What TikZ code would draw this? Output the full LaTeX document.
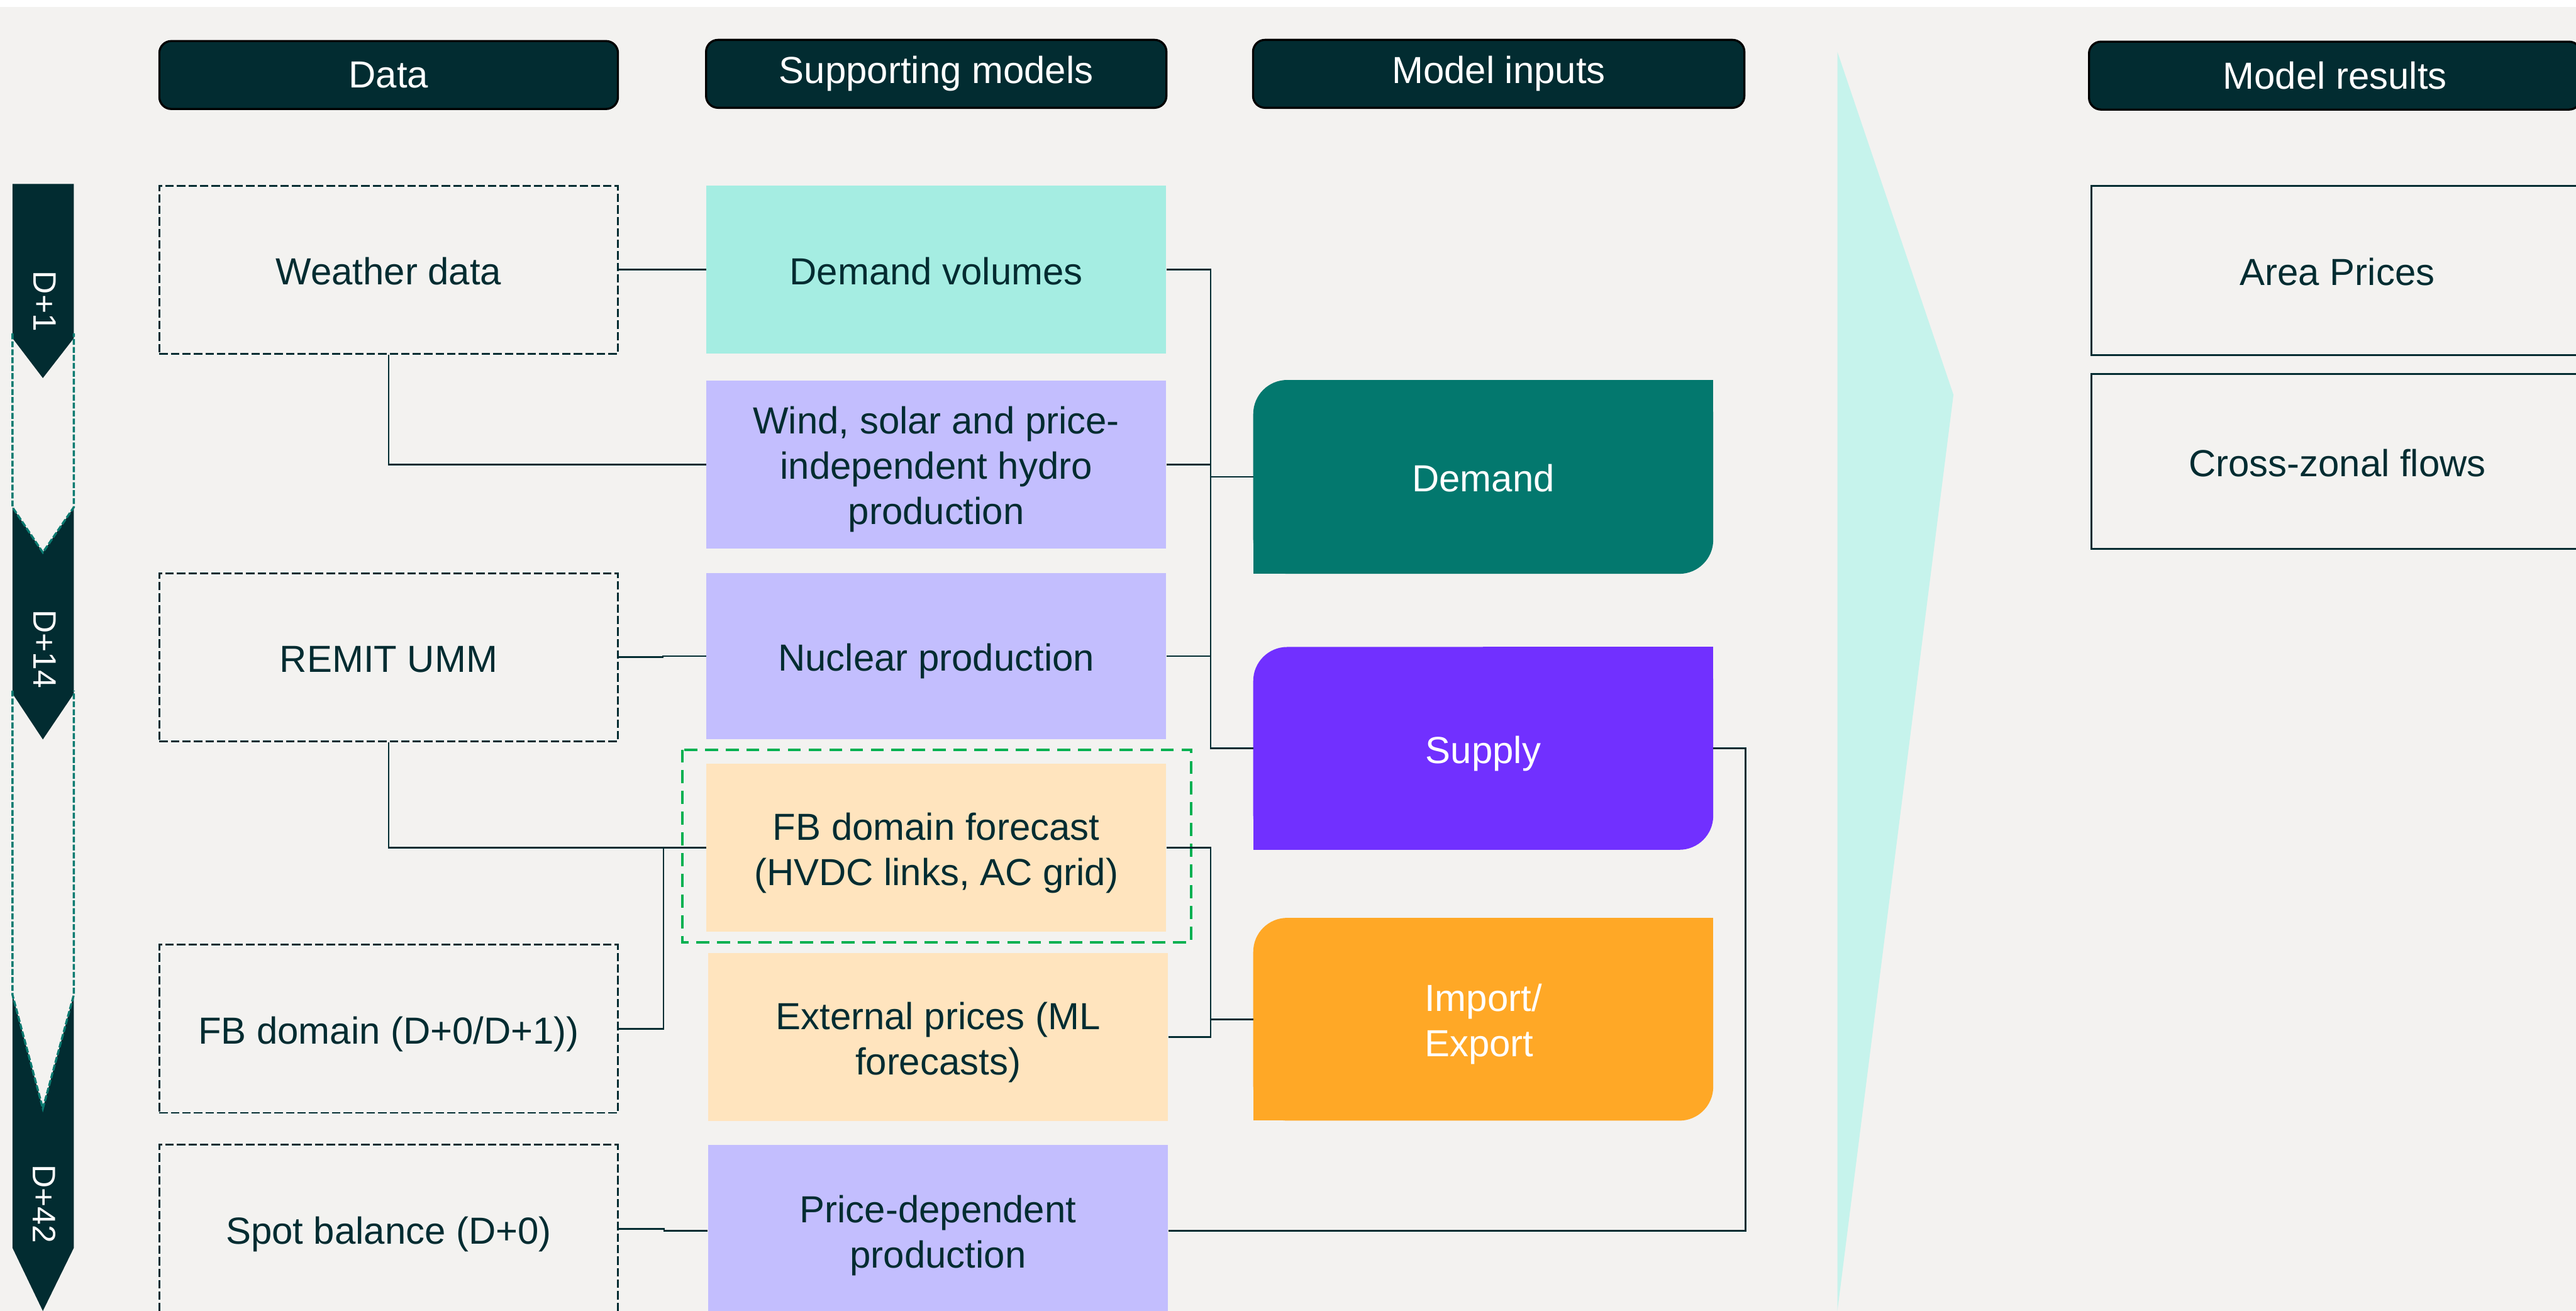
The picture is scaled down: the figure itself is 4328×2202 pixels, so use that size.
\documentclass[tikz,border=0pt]{standalone}
\usepackage{fontspec}
\setmainfont{Liberation Sans}
\usetikzlibrary{calc}

\definecolor{fonce}{RGB}{2,44,49}
\definecolor{fond}{RGB}{243,242,240}
\definecolor{menthe}{RGB}{165,237,226}
\definecolor{lavande}{RGB}{195,190,254}
\definecolor{peche}{RGB}{255,228,190}
\definecolor{sarcelle}{RGB}{3,120,110}
\definecolor{violet}{RGB}{113,48,255}
\definecolor{orange}{RGB}{255,168,38}
\definecolor{eau}{RGB}{198,243,236}
\definecolor{vert}{RGB}{0,176,80}
\definecolor{tiret}{RGB}{10,122,112}

% jambages fixes pour centrer les lignes
\newcommand{\haut}{\rule{0pt}{1em}}
\newcommand{\bas}{\rule[-0.21em]{0pt}{0.21em}}

% boite d'entree : coins arrondis en haut a gauche et en bas a droite
\newcommand{\boiteentree}[5][]{%
	\node[entree,#1] (#2) at (#3) {};
	\fill[#4,rounded corners=0.57cm] (#2.south west) rectangle (#2.north east);
	\fill[#4] (#2.north) rectangle (#2.east);
	\fill[#4] (#2.west) rectangle (#2.south);
	\node[txt,text=white,align=left] at (#2) {#5};
}

\begin{document}
\begin{tikzpicture}[x=0.01cm,y=-0.01cm,
	police/.style={font=\fontsize{18}{21.6}\selectfont,align=center,text=fonce},
	txt/.style={police,execute at begin node={\haut},execute at end node={\bas}},
	titre/.style={police,text=white,fill=fonce,draw=black,line width=1pt,rounded corners=0.2cm,minimum height=1.14cm,inner sep=0pt},
	donnee/.style={txt,draw=fonce,line width=0.85pt,dash pattern=on 4pt off 1.5pt,minimum width=7.7cm,minimum height=2.82cm,inner sep=0pt},
	modele/.style={txt,minimum width=7.72cm,minimum height=2.82cm,inner sep=0pt},
	entree/.style={minimum width=7.71cm,minimum height=3.39cm,inner sep=0pt},
	resultat/.style={txt,draw=fonce,line width=0.9pt,minimum width=8.25cm,inner sep=0pt},
	lien/.style={draw=fonce,line width=0.85pt},
	jour/.style={text=white,rotate=-90,font=\fontsize{15.5}{18}\selectfont}]
				\useasboundingbox (0,0) rectangle (4328,2202);
				\clip (0,0) rectangle (4328,2202);
				% Fond
				\fill[white] (0,0) rectangle (4328,2202);
				\fill[fond] (0,12) rectangle (4328,2202);
				\fill[eau] (3087,87) -- (3282,663) -- (3087,2202) -- cycle;

				% Frise
				\fill[fonce] (21,309) -- (124,309) -- (124,568) -- (72,635) -- (21,568) -- cycle;
				\fill[fonce] (21,852) -- (72,928) -- (124,852) -- (124,1165) -- (72,1242) -- (21,1165) -- cycle;
				\fill[fonce] (21,1671) -- (72,1862) -- (124,1671) -- (124,2096) -- (72,2202) -- (21,2096) -- cycle;
				\draw[tiret,line width=1pt,dash pattern=on 2.8pt off 1pt] (21,560) -- (21,852) -- (72,928) -- (124,852) -- (124,560);
				\draw[tiret,line width=1pt,dash pattern=on 2.8pt off 1pt] (21,1160) -- (21,1671) -- (72,1862) -- (124,1671) -- (124,1160);
				\node[jour] (j1) at (75,506) {D+1};
				\node[jour] (j14) at (75,1090) {D+14};
				\node[jour] (j42) at (75,2022) {D+42};

				% Titres
				\node[titre,minimum width=7.7cm] (hdonnees) at (653,126) {Data};
				\node[titre,minimum width=7.73cm] (hmodeles) at (1573,124) {Supporting models};
				\node[titre,minimum width=8.25cm] (hentrees) at (2518,124) {Model inputs};
				\node[titre,minimum width=8.26cm] (hresultats) at (3923,127) {Model results};

				% Donnees
				\node[donnee] (meteo) at (653,453) {Weather data};
				\node[donnee] (remit) at (653,1104) {REMIT UMM};
				\node[donnee] (fbdom) at (653,1728) {FB domain (D+0/D+1))};
				\node[donnee] (spot) at (653,2064) {Spot balance (D+0)};

				% Modeles
				\node[modele,fill=menthe] (demvol) at (1573,453) {Demand volumes};
				\node[modele,fill=lavande] (eolien) at (1573,780) {\haut Wind, solar and price-\\independent hydro\\production\bas};
				\node[modele,fill=lavande,minimum height=2.79cm] (nucleaire) at (1573,1102) {Nuclear production};
				\node[modele,fill=peche] (fbprev) at (1573,1424) {\haut FB domain forecast\\(HVDC links, AC grid)\bas};
				\node[modele,fill=peche] (prixext) at (1576,1742) {\haut External prices (ML\\forecasts)\bas};
				\node[modele,fill=lavande,minimum height=2.88cm] (prixdep) at (1576,2067) {\haut Price-dependent\\production\bas};
				\draw[vert,line width=1.2pt,dash pattern=on 6.2pt off 3.7pt] (1146,1259) rectangle (2001,1583);

				% Entrees
				\boiteentree[minimum height=3.24cm]{demande}{2492,801}{sarcelle}{Demand}
				\boiteentree{offre}{2492,1257}{violet}{Supply}
				\boiteentree{impexp}{2492,1712}{orange}{\haut Import/\\Export\bas}

				% Resultats
				\node[resultat,minimum height=2.84cm] (prix) at (3927,454) {Area Prices};
				\node[resultat,minimum height=2.94cm] (flux) at (3927,775) {Cross-zonal flows};

				% Connexions
				\draw[lien] (meteo) -- (demvol);
				\draw[lien] (meteo.south) |- (eolien.west);
				\draw[lien] (remit.east) -- ++(74,0) |- (nucleaire.west);
				\draw[lien] (remit.south) |- (fbprev.west);
				\draw[lien] (fbdom.east) -- ++(75,0) |- (fbprev.west);
				\draw[lien] (spot.east) -- ++(76,0) |- (prixdep.west);
				\draw[lien] (demvol.east) -- ++(74,0) |- (demande.west);
				\draw[lien] (eolien.east) -- ++(74,0) |- (offre.west);
				\draw[lien] (nucleaire.east) -- ++(74,0) |- (offre.west);
				\draw[lien] (fbprev.east) -- ++(74,0) |- (impexp.west);
				\draw[lien] (prixext.east) -- ++(71,0) |- (impexp.west);
				\draw[lien] (prixdep.east) -- ++(970,0) |- (offre.east);
\end{tikzpicture}
\end{document}
